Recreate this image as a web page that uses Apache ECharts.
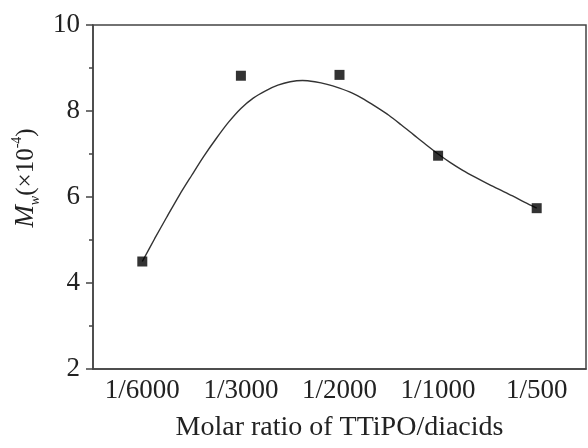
<!DOCTYPE html>
<html>
<head>
<meta charset="utf-8">
<script src="https://cdn.jsdelivr.net/npm/echarts@6/dist/echarts.min.js"></script>
<style>
  html, body { margin: 0; padding: 0; background: #fff; }
  #chart { width: 588px; height: 448px; }
</style>
</head>
<body>
<div id="chart"></div>
<script>
// molar ratio categories and measured Mw (x10^-4)
var ratios = ['1/6000', '1/3000', '1/2000', '1/1000', '1/500']
var mw = [4.50, 8.82, 8.84, 6.96, 5.74]

// fitted curve (x = category position)
var fitX = [0, 0.125, 0.25, 0.375, 0.5, 0.625, 0.75, 0.875, 1, 1.125, 1.25, 1.375, 1.5, 1.625, 1.75, 1.875,
  2, 2.125, 2.25, 2.375, 2.5, 2.625, 2.75, 2.875, 3, 3.125, 3.25, 3.375, 3.5, 3.625, 3.75, 3.875, 4]
var fitY = [4.50, 5.03, 5.54, 6.04, 6.50, 6.95, 7.36, 7.74, 8.06, 8.30, 8.47, 8.60, 8.68, 8.71, 8.68, 8.62,
  8.53, 8.42, 8.27, 8.09, 7.90, 7.68, 7.45, 7.22, 7.00, 6.80, 6.62, 6.46, 6.31, 6.17, 6.03, 5.88, 5.74]

var yTicks = [2, 10, 2]  // min, max, interval

var serif = '"Liberation Serif", "DejaVu Serif", serif'
var axisColor = '#444'
var textColor = '#222'

var fitData = fitX.map(function (x, i) { return [x, fitY[i]] })

var myChart = echarts.init(document.getElementById('chart'))

var options = {
  animation: false,
  grid: {
    left: 93, right: 2, top: 25, bottom: 79,
    show: true,
    borderColor: axisColor,
    borderWidth: 1.5
  },
  xAxis: [
    {
      type: 'category',
      data: ratios,
      boundaryGap: true,
      axisLine: { lineStyle: { color: axisColor, width: 1.5 } },
      axisTick: { alignWithLabel: true, inside: false, length: 6, lineStyle: { color: axisColor, width: 1.5 } },
      axisLabel: { color: textColor, fontFamily: serif, fontSize: 27, margin: 8 },
      splitLine: { show: false },
      name: 'Molar ratio of TTiPO/diacids',
      nameLocation: 'middle',
      nameGap: 45,
      nameTextStyle: { color: textColor, fontFamily: serif, fontSize: 28 }
    },
    {
      // hidden helper axis for the fitted curve
      type: 'value',
      min: -0.5,
      max: 4.5,
      show: false
    }
  ],
  yAxis: {
    type: 'value',
    min: yTicks[0],
    max: yTicks[1],
    interval: yTicks[2],
    axisLine: { show: true, onZero: false, lineStyle: { color: axisColor, width: 1.5 } },
    axisTick: { show: true, inside: false, length: 7, lineStyle: { color: axisColor, width: 1.5 } },
    minorTick: { show: true, splitNumber: 2, length: 4, lineStyle: { color: axisColor, width: 1.5 } },
    axisLabel: { color: textColor, fontFamily: serif, fontSize: 27, margin: 13 },
    splitLine: { show: false },
    name: '{i|M}{s|w}{n|(×10}{p|-4}{n|)}',
    nameLocation: 'middle',
    nameRotate: 90,
    nameGap: 50,
    nameTextStyle: {
      color: textColor,
      fontFamily: serif,
      padding: [0, 0, 0, 38],
      rich: {
        i: { fontFamily: serif, fontStyle: 'italic', fontSize: 27, lineHeight: 32, color: textColor },
        s: { fontFamily: serif, fontStyle: 'italic', fontSize: 14, lineHeight: 14, verticalAlign: 'bottom', color: textColor },
        n: { fontFamily: serif, fontSize: 25, lineHeight: 32, color: textColor },
        p: { fontFamily: serif, fontSize: 14, lineHeight: 14, verticalAlign: 'top', color: textColor }
      }
    }
  },
  series: [
    {
      name: 'fit',
      type: 'line',
      xAxisIndex: 1,
      data: fitData,
      smooth: 0.3,
      showSymbol: false,
      lineStyle: { color: '#333', width: 1.4 },
      z: 2
    },
    {
      name: 'Mw',
      type: 'scatter',
      xAxisIndex: 0,
      data: mw,
      symbol: 'rect',
      symbolSize: 10,
      itemStyle: { color: '#000' },
      z: 3
    }
  ]
}
myChart.setOption(options)
</script>
</body>
</html>
